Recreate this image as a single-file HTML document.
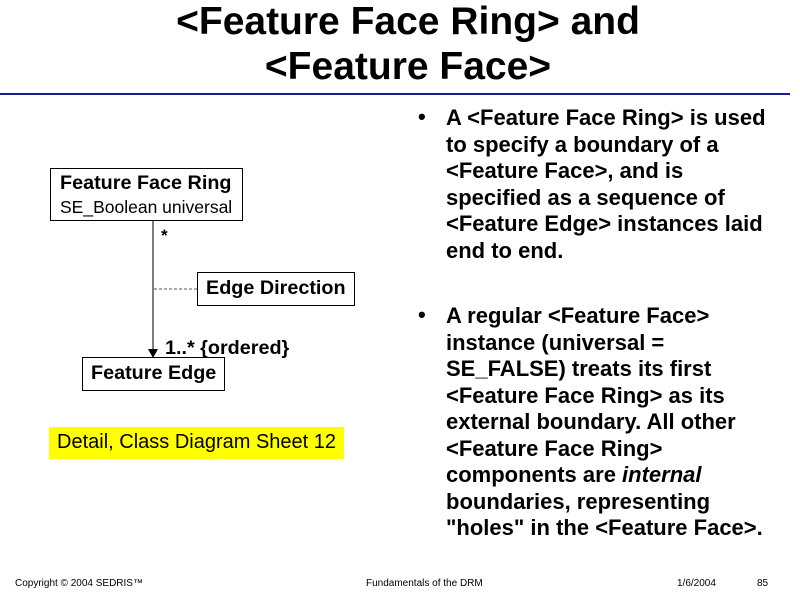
<!DOCTYPE html>
<html><head><meta charset="utf-8"><style>
body{margin:0;width:800px;height:600px;background:#fff;position:relative;overflow:hidden;font-family:"Liberation Sans",Arial,sans-serif;color:#000}
.a{position:absolute;white-space:nowrap}
.t{font-weight:bold;font-size:39px;left:8px;width:800px;text-align:center}
.b{font-weight:bold;font-size:22px;left:446px}
.box{position:absolute;border:1px solid #000;background:#fff;box-sizing:border-box}
.f{font-size:10px}
</style></head><body>
<div class="a t" style="top:0px">&lt;Feature Face Ring&gt; and</div>
<div class="a t" style="top:45px">&lt;Feature Face&gt;</div>
<div class="a" style="left:0;top:93px;width:790px;height:2px;background:#1a1a8c"></div>

<svg class="a" style="left:0;top:0" width="400" height="480">
<line x1="153" y1="220" x2="153" y2="352" stroke="#555" stroke-width="1.5"/>
<polygon points="148,349 158,349 153,358" fill="#000"/>
<line x1="154" y1="289" x2="197" y2="289" stroke="#555" stroke-width="1" stroke-dasharray="3,2"/>
</svg>
<div class="box" style="left:50px;top:168px;width:193px;height:53px"></div>
<div class="a" style="left:60px;top:172px;font-size:19.8px;font-weight:bold">Feature Face Ring</div>
<div class="a" style="left:60px;top:197px;font-size:17.5px">SE_Boolean universal</div>
<div class="a" style="left:161px;top:226px;font-size:17px;font-weight:bold">*</div>
<div class="box" style="left:197px;top:272px;width:158px;height:34px"></div>
<div class="a" style="left:206px;top:277px;font-size:19.8px;font-weight:bold">Edge Direction</div>
<div class="a" style="left:165px;top:337px;font-size:19.8px;font-weight:bold">1..* {ordered}</div>
<div class="box" style="left:82px;top:357px;width:143px;height:34px"></div>
<div class="a" style="left:91px;top:362px;font-size:19.8px;font-weight:bold">Feature Edge</div>
<div class="a" style="left:49px;top:427px;width:295px;height:32px;background:#ff0"></div>
<div class="a" style="left:57px;top:431px;font-size:20px">Detail, Class Diagram Sheet 12</div>

<div class="a" style="left:418px;top:104px;font-size:22px;font-weight:bold">•</div>
<div class="a b" style="top:105px">A &lt;Feature Face Ring&gt; is used</div>
<div class="a b" style="top:132px">to specify a boundary of a</div>
<div class="a b" style="top:158px">&lt;Feature Face&gt;, and is</div>
<div class="a b" style="top:185px">specified as a sequence of</div>
<div class="a b" style="top:211px">&lt;Feature Edge&gt; instances laid</div>
<div class="a b" style="top:238px">end to end.</div>

<div class="a" style="left:418px;top:302px;font-size:22px;font-weight:bold">•</div>
<div class="a b" style="top:303px">A regular &lt;Feature Face&gt;</div>
<div class="a b" style="top:330px">instance (universal =</div>
<div class="a b" style="top:356px">SE_FALSE) treats its first</div>
<div class="a b" style="top:383px">&lt;Feature Face Ring&gt; as its</div>
<div class="a b" style="top:409px">external boundary. All other</div>
<div class="a b" style="top:436px">&lt;Feature Face Ring&gt;</div>
<div class="a b" style="top:462px">components are <i>internal</i></div>
<div class="a b" style="top:489px">boundaries, representing</div>
<div class="a b" style="top:515px">"holes" in the &lt;Feature Face&gt;.</div>

<div class="a f" style="left:15px;top:578px">Copyright © 2004 SEDRIS™</div>
<div class="a f" style="left:366px;top:578px">Fundamentals of the DRM</div>
<div class="a f" style="left:677px;top:578px">1/6/2004</div>
<div class="a f" style="left:757px;top:578px">85</div>
</body></html>
